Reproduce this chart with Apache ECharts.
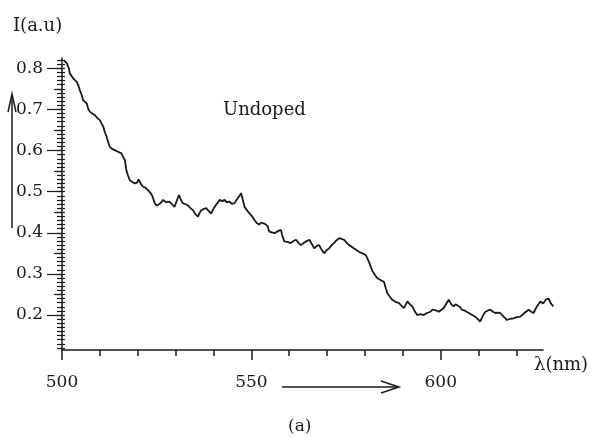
<!DOCTYPE html>
<html>
<head>
<meta charset="utf-8">
<script src="https://cdn.jsdelivr.net/npm/echarts@6/dist/echarts.min.js"></script>
<style>
  html, body { margin: 0; padding: 0; background: #fff; }
  #main { width: 595px; height: 438px; }
</style>
</head>
<body>
<div id="main"></div>
<script>
// wavelength (nm)
const lambda = [
  500.5, 501.3, 501.8, 502.1, 502.6, 503.0, 503.5, 503.9, 504.3, 504.7,
  505.2, 505.6, 506.0, 506.5, 507.0, 507.4, 508.0, 508.7, 509.3, 510.0,
  510.5, 510.9, 511.3, 511.8, 512.2, 512.6, 513.2, 513.9, 514.8, 515.7,
  516.1, 516.6, 517.0, 517.4, 517.9, 518.5, 519.2, 519.8, 520.2, 520.5,
  520.9, 521.4, 522.0, 522.7, 523.2, 523.6, 524.0, 524.5, 525.0, 525.3,
  526.0, 526.7, 527.5, 528.4, 529.0, 529.7, 530.3, 530.9, 531.4, 531.9,
  532.5, 533.2, 533.9, 534.6, 535.2, 535.9, 536.3, 536.8, 537.5, 538.1,
  538.8, 539.4, 539.8, 540.3, 541.0, 541.6, 542.3, 542.9, 543.5, 544.2,
  544.9, 545.5, 546.4, 547.3, 547.8, 548.2, 548.8, 549.5, 550.2, 550.8,
  551.4, 552.1, 552.6, 553.0, 553.7, 554.3, 554.7, 555.4, 556.1, 557.0,
  557.8, 558.2, 558.7, 559.5, 560.4, 561.1, 561.8, 562.5, 563.1, 564.2,
  565.3, 566.0, 566.6, 567.3, 567.9, 568.6, 569.2, 569.9, 570.5, 571.2,
  571.8, 572.5, 573.2, 573.8, 574.5, 575.1, 575.8, 576.5, 577.1, 577.8,
  578.4, 579.3, 580.2, 580.7, 581.1, 581.9, 582.6, 583.2, 584.1, 585.0,
  585.5, 585.9, 586.6, 587.2, 588.1, 589.0, 589.7, 590.3, 590.8, 591.2,
  591.9, 592.5, 593.2, 593.8, 594.7, 595.5, 596.4, 597.3, 597.8, 598.2,
  598.9, 599.5, 600.2, 600.8, 601.5, 602.1, 602.8, 603.4, 603.9, 604.3,
  605.0, 605.6, 606.5, 607.4, 608.3, 609.1, 609.8, 610.4, 611.1, 611.8,
  612.5, 613.1, 613.8, 614.4, 615.1, 615.7, 616.6, 617.5, 618.4, 619.2,
  620.1, 621.0, 622.1, 623.2, 623.9, 624.5, 625.0, 625.4, 626.3, 627.0,
  627.8, 628.5, 629.1, 629.7
]
// intensity (a.u)
const intensity = [
  0.820, 0.812, 0.800, 0.787, 0.790, 0.775, 0.772, 0.767, 0.758, 0.747,
  0.735, 0.722, 0.718, 0.715, 0.700, 0.694, 0.690, 0.686, 0.679, 0.674,
  0.665, 0.658, 0.645, 0.633, 0.620, 0.609, 0.604, 0.601, 0.597, 0.593,
  0.585, 0.577, 0.552, 0.540, 0.528, 0.524, 0.520, 0.522, 0.530, 0.533,
  0.518, 0.512, 0.510, 0.504, 0.500, 0.494, 0.486, 0.472, 0.466, 0.463,
  0.472, 0.480, 0.474, 0.476, 0.470, 0.463, 0.478, 0.492, 0.480, 0.472,
  0.470, 0.467, 0.460, 0.455, 0.446, 0.439, 0.448, 0.455, 0.458, 0.460,
  0.452, 0.447, 0.455, 0.463, 0.472, 0.480, 0.477, 0.480, 0.474, 0.476,
  0.470, 0.472, 0.484, 0.496, 0.478, 0.463, 0.455, 0.447, 0.440, 0.431,
  0.424, 0.420, 0.425, 0.427, 0.421, 0.416, 0.403, 0.401, 0.399, 0.404,
  0.407, 0.392, 0.379, 0.378, 0.375, 0.380, 0.383, 0.375, 0.370, 0.378,
  0.383, 0.372, 0.362, 0.368, 0.370, 0.358, 0.350, 0.358, 0.362, 0.370,
  0.375, 0.382, 0.387, 0.385, 0.383, 0.376, 0.370, 0.366, 0.362, 0.358,
  0.354, 0.350, 0.346, 0.336, 0.328, 0.308, 0.298, 0.290, 0.285, 0.281,
  0.265, 0.253, 0.244, 0.237, 0.232, 0.229, 0.222, 0.217, 0.226, 0.233,
  0.226, 0.221, 0.208, 0.200, 0.202, 0.200, 0.205, 0.208, 0.213, 0.217,
  0.211, 0.208, 0.213, 0.217, 0.228, 0.237, 0.226, 0.221, 0.226, 0.229,
  0.220, 0.213, 0.210, 0.205, 0.200, 0.196, 0.190, 0.184, 0.198, 0.208,
  0.211, 0.213, 0.208, 0.205, 0.206, 0.205, 0.196, 0.188, 0.191, 0.192,
  0.195, 0.196, 0.205, 0.213, 0.208, 0.205, 0.214, 0.221, 0.233, 0.228,
  0.238, 0.240, 0.228, 0.221
]

// tick values
const xMajorTicks = [500, 550, 600]
const xMinorTicks = [510, 520, 530, 540, 560, 570, 580, 590, 610, 620]
const yMajorTicks = [0.2, 0.3, 0.4, 0.5, 0.6, 0.7, 0.8]
const yMidTicks = [0.25, 0.35, 0.45, 0.55, 0.65, 0.75]
const yMinorTicks = []
for (let i = 12; i <= 82; i++) yMinorTicks.push(i / 100)

const X_MIN = 500, X_MAX = 627      // drawn axis
const X_MAX_DATA = 630              // trace runs a little past the axis end
const Y_MIN = 0.115, Y_MAX = 0.825

const GRID_LEFT = 62, GRID_RIGHT = 52, GRID_TOP = 58, GRID_BOTTOM = 88
const plotW = 595 - GRID_LEFT - GRID_RIGHT
// same px per nm for the wider data grid
const dataRight = 595 - GRID_LEFT - plotW * (X_MAX_DATA - X_MIN) / (X_MAX - X_MIN)

const ink = '#1a1a1a'
const serif = 'DejaVu Serif'

const chart = echarts.init(document.getElementById('main'))

// x 轴：主刻度带标签，副刻度另一根轴
function xAxisOf(ticks, len, withLabel, withLine) {
  return {
    type: 'value', gridIndex: 0, position: 'bottom', min: X_MIN, max: X_MAX,
    axisLine: { show: withLine, lineStyle: { color: ink, width: 1.5 } },
    axisTick: { show: true, customValues: ticks, length: len, lineStyle: { color: ink, width: 1.5 } },
    axisLabel: withLabel
      ? { show: true, customValues: ticks, margin: 24, fontFamily: serif, fontSize: 17, color: ink }
      : { show: false },
    splitLine: { show: false }
  }
}
function yAxisOf(ticks, len, inside, withLabel, withLine) {
  return {
    type: 'value', gridIndex: 0, position: 'left', min: Y_MIN, max: Y_MAX,
    axisLine: { show: withLine, lineStyle: { color: ink, width: 1.5 } },
    axisTick: { show: true, inside: inside, customValues: ticks, length: len, lineStyle: { color: ink, width: 1.2 } },
    axisLabel: withLabel
      ? { show: true, customValues: ticks, margin: 19, fontFamily: serif, fontSize: 17, color: ink,
          formatter: v => v.toFixed(1) }
      : { show: false },
    splitLine: { show: false }
  }
}
const hidden = { show: false }

const option = {
  animation: false,
  backgroundColor: '#fff',
  grid: [
    { left: GRID_LEFT, right: GRID_RIGHT, top: GRID_TOP, bottom: GRID_BOTTOM },
    { left: GRID_LEFT, right: dataRight, top: GRID_TOP, bottom: GRID_BOTTOM }
  ],
  xAxis: [
    xAxisOf(xMajorTicks, 10, true, true),
    xAxisOf(xMinorTicks, 6, false, false),
    { type: 'value', gridIndex: 1, min: X_MIN, max: X_MAX_DATA, axisLine: hidden, axisTick: hidden, axisLabel: hidden, splitLine: hidden }
  ],
  yAxis: [
    yAxisOf(yMajorTicks, 15, false, true, true),
    yAxisOf(yMidTicks, 8, false, false, false),
    yAxisOf(yMinorTicks, 5, false, false, false),
    yAxisOf(yMinorTicks, 3, true, false, false),
    { type: 'value', gridIndex: 1, min: Y_MIN, max: Y_MAX, axisLine: hidden, axisTick: hidden, axisLabel: hidden, splitLine: hidden }
  ],
  graphic: [
    { type: 'text', left: 13, top: 17, style: { text: 'I(a.u)', font: '18px "DejaVu Serif"', fill: ink } },
    { type: 'line', shape: { x1: 12, y1: 228, x2: 12, y2: 96 }, style: { stroke: ink, lineWidth: 1.5 } },
    { type: 'polyline', shape: { points: [[8, 112], [12, 94], [16, 112]] }, style: { stroke: ink, lineWidth: 1.5, fill: null } },
    { type: 'text', left: 223, top: 101, style: { text: 'Undoped', font: '18px "DejaVu Serif"', fill: ink } },
    { type: 'text', left: 534, top: 356, style: { text: 'λ(nm)', font: '18px "DejaVu Serif"', fill: ink } },
    { type: 'line', shape: { x1: 282, y1: 387, x2: 399, y2: 387 }, style: { stroke: ink, lineWidth: 1.5 } },
    { type: 'polyline', shape: { points: [[381, 381], [399, 387], [381, 393]] }, style: { stroke: ink, lineWidth: 1.5, fill: null } },
    { type: 'text', left: 288, top: 418, style: { text: '(a)', font: '17px "DejaVu Serif"', fill: ink } }
  ],
  series: [
    {
      name: 'Undoped',
      type: 'line',
      xAxisIndex: 2,
      yAxisIndex: 4,
      data: lambda.map((x, i) => [x, intensity[i]]),
      showSymbol: false,
      lineStyle: { color: ink, width: 1.8 }
    }
  ]
}

chart.setOption(option)
</script>
</body>
</html>
